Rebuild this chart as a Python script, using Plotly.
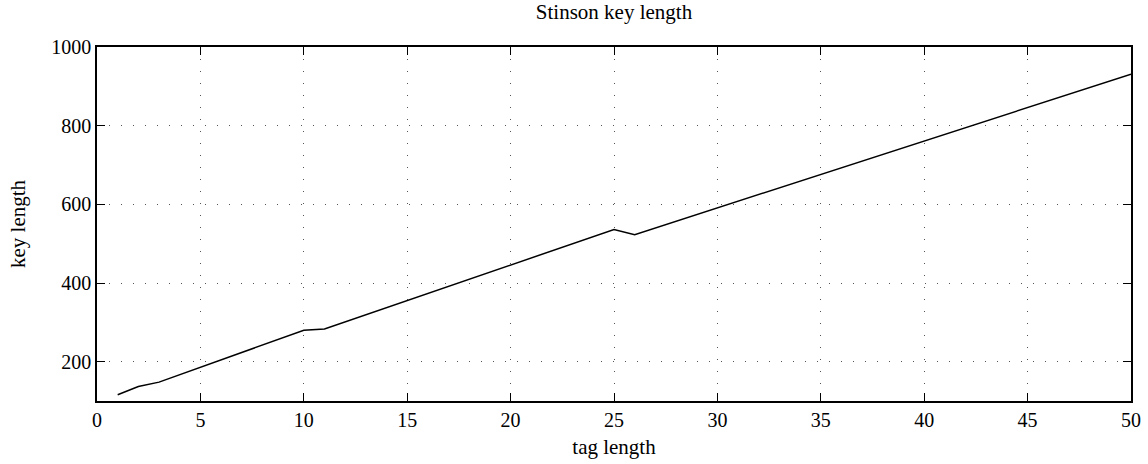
import plotly.graph_objects as go

tag_length = list(range(1, 51))
key_length = [116, 137, 148, 167, 186, 205, 224, 243, 262, 280,
              283, 301, 319, 337, 355, 373, 391, 409, 427, 445,
              463, 481, 499, 517, 536, 523, 540, 557, 574, 591,
              608, 625, 642, 659, 676, 693, 710, 727, 744, 761,
              778, 795, 812, 829, 846, 863, 880, 897, 914, 931]

x_ticks = [0, 5, 10, 15, 20, 25, 30, 35, 40, 45, 50]
y_ticks = [200, 400, 600, 800, 1000]

FONT = "Liberation Serif"

fig = go.Figure(go.Scatter(x=tag_length, y=key_length, mode="lines",
                           line=dict(color="black", width=1.5)))

axis_common = dict(
    showline=True, linecolor="black", linewidth=1.5, mirror="ticks",
    ticks="inside", ticklen=8, tickwidth=1, tickcolor="black",
    showgrid=True, gridcolor="#555", gridwidth=1, griddash="1px,11px",
    zeroline=False, automargin=False,
    tickfont=dict(family=FONT, size=20, color="black"),
)

fig.update_xaxes(range=[0, 50], tickvals=x_ticks,
                 title=dict(text="tag length", font=dict(family=FONT, size=21, color="black"), standoff=10),
                 **axis_common)
fig.update_yaxes(range=[100, 1000], tickvals=y_ticks,
                 title=dict(text="key length", font=dict(family=FONT, size=21, color="black"), standoff=20),
                 **axis_common)

fig.update_layout(
    width=1148, height=464,
    margin=dict(l=97, r=17, t=47, b=63, autoexpand=False),
    paper_bgcolor="white", plot_bgcolor="white",
    showlegend=False,
    title=dict(text="Stinson key length", x=614/1148, xanchor="center", y=1 - 12/464, yanchor="middle",
               font=dict(family=FONT, size=21, color="black")),
)

fig.write_html("out.html")
